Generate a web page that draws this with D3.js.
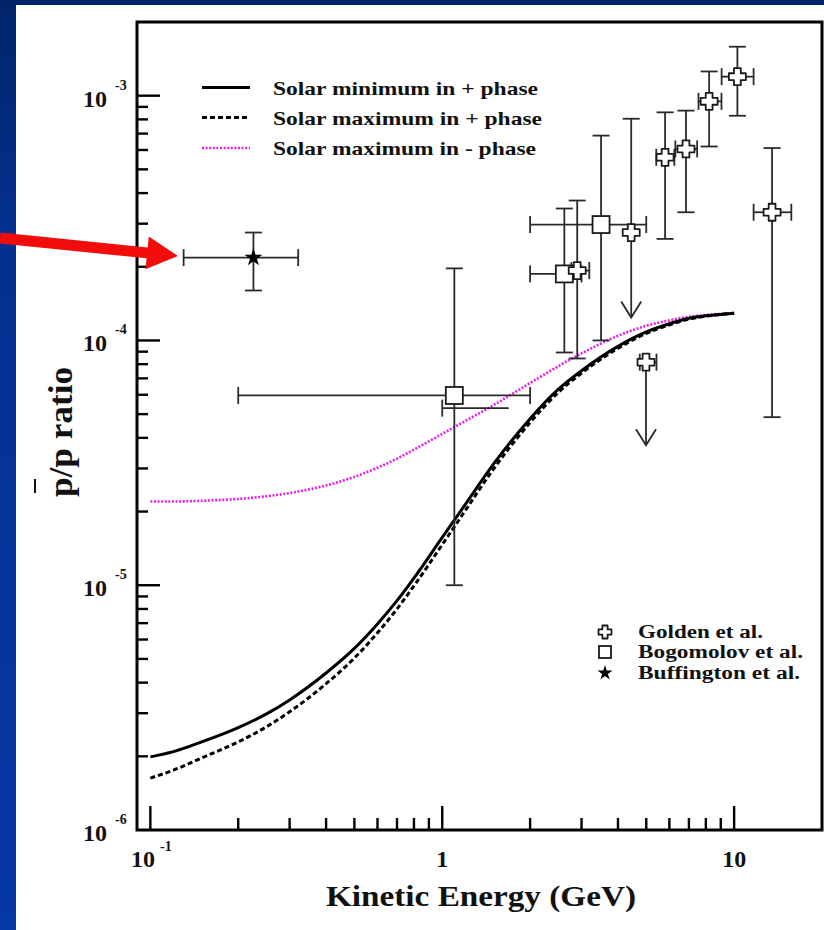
<!DOCTYPE html>
<html><head><meta charset="utf-8">
<script src="https://cdn.jsdelivr.net/npm/d3@7/dist/d3.min.js"></script>
<style>html,body{margin:0;padding:0;background:#fff;}svg{display:block;}</style>
</head><body><svg id="c" width="824" height="930"></svg>
<script>
// ---------------- data ----------------
const energyGrid   = [0.1,0.12,0.15,0.2,0.25,0.3,0.4,0.5,0.6,0.7,0.8,1.0,1.2,1.5,2,2.5,3,4,5,6,7,8,10];
const solarMinPlus = [1.99e-6,2.09e-6,2.29e-6,2.62e-6,2.98e-6,3.40e-6,4.38e-6,5.52e-6,6.95e-6,8.65e-6,1.069e-5,1.567e-5,2.14e-5,3.13e-5,4.79e-5,6.32e-5,7.52e-5,9.46e-5,1.083e-4,1.17e-4,1.232e-4,1.261e-4,1.293e-4];
const solarMaxPlus = [1.63e-6,1.756e-6,1.97e-6,2.29e-6,2.64e-6,3.04e-6,3.96e-6,5.04e-6,6.39e-6,8.0e-6,9.94e-6,1.465e-5,2.02e-5,2.99e-5,4.62e-5,6.14e-5,7.35e-5,9.29e-5,1.068e-4,1.158e-4,1.223e-4,1.256e-4,1.293e-4];
const solarMaxMinus= [2.198e-5,2.198e-5,2.213e-5,2.252e-5,2.308e-5,2.380e-5,2.557e-5,2.771e-5,3.020e-5,3.292e-5,3.581e-5,4.150e-5,4.688e-5,5.445e-5,6.699e-5,7.852e-5,8.851e-5,1.0447e-4,1.148e-4,1.208e-4,1.250e-4,1.271e-4,1.293e-4];
const curveLabels  = ["Solar minimum in + phase","Solar maximum in + phase","Solar maximum in - phase"];

// Golden et al. (crosses)
const goldenE    = [2.90, 4.44, 4.99, 5.80, 6.84, 8.21, 10.26, 13.49];
const goldenR    = [1.93e-4, 2.76e-4, 8.15e-5, 5.60e-4, 6.06e-4, 9.48e-4, 1.196e-3, 3.34e-4];
const goldenELo  = [2.77, 4.44, 4.75, 5.41, 6.29, 7.55, 9.06, 11.66];
const goldenEHi  = [3.19, 4.44, 5.42, 6.24, 7.47, 9.05, 11.66, 15.7];
const goldenRLo  = [8.44e-5, 1.24e-4, 3.73e-5, 2.60e-4, 3.34e-4, 6.20e-4, 8.28e-4, 4.86e-5];
const goldenRHi  = [3.73e-4, 8.05e-4, 8.15e-5, 8.55e-4, 8.69e-4, 1.256e-3, 1.585e-3, 6.11e-4];
const goldenUL   = [false, true, true, false, false, false, false, false];

// Bogomolov et al. (squares)
const bogE   = [1.10, 2.62, 3.50];
const bogR   = [5.96e-5, 1.87e-4, 2.975e-4];
const bogELo = [0.2, 2.0, 2.0];
const bogEHi = [2.0, 3.0, 5.0];
const bogRLo = [1.0e-5, 8.93e-5, 1.0e-4];
const bogRHi = [1.97e-4, 3.46e-4, 6.87e-4];

// Buffington et al. (star)
const bufE   = [0.2255];
const bufR   = [2.18e-4];
const bufELo = [0.130];
const bufEHi = [0.321];
const bufRLo = [1.60e-4];
const bufRHi = [2.76e-4];

// stray horizontal error segment near 1 GeV
const strayE = [1.0, 1.69];
const strayR = 5.29e-5;

const dataLabels = ["Golden et al.","Bogomolov et al.","Buffington et al."];
const yTickExp = [-3,-4,-5,-6];

// ---------------- drawing ----------------
const svg = d3.select("#c");
const FONT = "'Liberation Serif','Times New Roman',Times,serif";
const x = d3.scaleLog().domain([0.09,20]).range([137,822]);
const y = d3.scaleLog().domain([1e-6,2e-3]).range([830,22]);

// background
const defs = svg.append("defs");
const g1 = defs.append("linearGradient").attr("id","side").attr("x1",0).attr("y1",0).attr("x2",0).attr("y2",1);
g1.append("stop").attr("offset","0").attr("stop-color","#022569");
g1.append("stop").attr("offset","0.25").attr("stop-color","#04308f");
g1.append("stop").attr("offset","1").attr("stop-color","#0638a6");
svg.append("rect").attr("width",824).attr("height",930).attr("fill","#fff");
svg.append("rect").attr("x",0).attr("y",0).attr("width",824).attr("height",5).attr("fill","#02246a");
svg.append("rect").attr("x",0).attr("y",0).attr("width",16).attr("height",930).attr("fill","url(#side)");

// curves
const line = d3.line().x(d=>x(d[0])).y(d=>y(d[1])).curve(d3.curveMonotoneX);
const curves = [
  {v:solarMaxMinus, stroke:"#e81ee8", dash:"2,1.6", w:2.6},
  {v:solarMaxPlus,  stroke:"#000", dash:"5,3", w:3},
  {v:solarMinPlus,  stroke:"#000", dash:null, w:3}
];
curves.forEach(c=>{
  svg.append("path").datum(energyGrid.map((e,i)=>[e,c.v[i]]))
    .attr("d",line).attr("fill","none").attr("stroke",c.stroke)
    .attr("stroke-width",c.w).attr("stroke-dasharray",c.dash);
});

// error bars
const eb = svg.append("g").attr("stroke","#2a2a2a").attr("stroke-width",1.8).attr("fill","none");
const CAP = 8.5;
function errbar(E,R,ELo,EHi,RLo,RHi,ul){
  const cx=x(E), cy=y(R);
  if (RHi!==R){ eb.append("line").attr("x1",cx).attr("x2",cx).attr("y1",cy).attr("y2",y(RHi));
    eb.append("line").attr("x1",cx-CAP).attr("x2",cx+CAP).attr("y1",y(RHi)).attr("y2",y(RHi)); }
  if (RLo!==R){ eb.append("line").attr("x1",cx).attr("x2",cx).attr("y1",cy).attr("y2",y(RLo));
    if (ul){ const t=y(RLo); eb.append("path").attr("d",`M${cx-10},${t-16}L${cx},${t}L${cx+10},${t-16}`); }
    else eb.append("line").attr("x1",cx-CAP).attr("x2",cx+CAP).attr("y1",y(RLo)).attr("y2",y(RLo)); }
  if (ELo!==E){ eb.append("line").attr("x1",cx).attr("x2",x(ELo)).attr("y1",cy).attr("y2",cy);
    eb.append("line").attr("x1",x(ELo)).attr("x2",x(ELo)).attr("y1",cy-CAP).attr("y2",cy+CAP); }
  if (EHi!==E){ eb.append("line").attr("x1",cx).attr("x2",x(EHi)).attr("y1",cy).attr("y2",cy);
    eb.append("line").attr("x1",x(EHi)).attr("x2",x(EHi)).attr("y1",cy-CAP).attr("y2",cy+CAP); }
}
bogE.forEach((e,i)=>errbar(e,bogR[i],bogELo[i],bogEHi[i],bogRLo[i],bogRHi[i],false));
goldenE.forEach((e,i)=>errbar(e,goldenR[i],goldenELo[i],goldenEHi[i],goldenRLo[i],goldenRHi[i],goldenUL[i]));
bufE.forEach((e,i)=>errbar(e,bufR[i],bufELo[i],bufEHi[i],bufRLo[i],bufRHi[i],false));
// stray segment
eb.append("line").attr("x1",x(strayE[0])).attr("x2",x(strayE[1])).attr("y1",y(strayR)).attr("y2",y(strayR));
eb.append("line").attr("x1",x(strayE[0])).attr("x2",x(strayE[0])).attr("y1",y(strayR)-CAP).attr("y2",y(strayR)+CAP);

// symbols
function crossPath(h,a){
  return `M${-a},${-h}H${a}V${-a}H${h}V${a}H${a}V${h}H${-a}V${a}H${-h}V${-a}H${-a}Z`;
}
const sym = svg.append("g");
function drawSquare(g,cx,cy,s){ g.append("rect").attr("x",cx-s/2).attr("y",cy-s/2).attr("width",s).attr("height",s)
  .attr("fill","#fff").attr("stroke","#1a1a1a").attr("stroke-width",1.8); }
function drawCross(g,cx,cy,h,a){ g.append("path").attr("d",crossPath(h,a)).attr("transform",`translate(${cx},${cy})`)
  .attr("fill","#fff").attr("stroke","#1a1a1a").attr("stroke-width",1.8).attr("stroke-linejoin","round"); }
function drawStar(g,cx,cy,size){ g.append("path").attr("d",d3.symbol(d3.symbolStar,size)()).attr("transform",`translate(${cx},${cy})`).attr("fill","#000"); }
bogE.forEach((e,i)=>drawSquare(sym,x(e),y(bogR[i]),17));
goldenE.forEach((e,i)=>drawCross(sym,x(e),y(goldenR[i]),8.5,3.4));
bufE.forEach((e,i)=>drawStar(sym,x(e),y(bufR[i]),100));

// axes frame & ticks
const ax = svg.append("g").attr("stroke","#000").attr("stroke-width",2.4);
for (let ex=-6; ex<=-3; ex++){
  for (let k=1;k<=9;k++){
    const v=k*Math.pow(10,ex);
    if (v<=1e-6*1.0001 || v>=2e-3*0.999) continue;
    const len = k===1?23:11;
    ax.append("line").attr("x1",137).attr("x2",137+len).attr("y1",y(v)).attr("y2",y(v));
  }
}
for (let ex=-1; ex<=1; ex++){
  for (let k=1;k<=9;k++){
    const v=k*Math.pow(10,ex);
    if (v<=0.09 || v>=20*0.999) continue;
    const len = k===1?24:12;
    ax.append("line").attr("x1",x(v)).attr("x2",x(v)).attr("y1",830).attr("y2",830-len);
  }
}
svg.append("rect").attr("x",137).attr("y",22).attr("width",685).attr("height",808)
  .attr("fill","none").attr("stroke","#000").attr("stroke-width",3);

// tick labels
const tl = svg.append("g").attr("font-family",FONT).attr("font-weight","bold").attr("fill","#111");
yTickExp.forEach(ex=>{
  const yy=y(Math.pow(10,ex));
  tl.append("text").attr("x",107).attr("y",yy+11).attr("text-anchor","end").attr("font-size",24).text("10");
  tl.append("text").attr("x",115).attr("y",yy-6).attr("font-size",14).text("-"+Math.abs(ex));
});
tl.append("text").attr("x",143).attr("y",867).attr("text-anchor","middle").attr("font-size",24).text("10");
tl.append("text").attr("x",160).attr("y",851).attr("font-size",14).text("-1");
tl.append("text").attr("x",x(1)).attr("y",867).attr("text-anchor","middle").attr("font-size",24).text("1");
tl.append("text").attr("x",x(10)).attr("y",867).attr("text-anchor","middle").attr("font-size",24).text("10");

// axis titles
tl.append("text").attr("x",481).attr("y",906).attr("text-anchor","middle").attr("font-size",30)
  .attr("textLength",310).attr("lengthAdjust","spacingAndGlyphs").text("Kinetic Energy (GeV)");
const yt = tl.append("g").attr("transform","translate(72,432) rotate(-90)");
yt.append("text").attr("x",0).attr("y",0).attr("text-anchor","middle").attr("font-size",34)
  .attr("textLength",130).attr("lengthAdjust","spacingAndGlyphs").text("p/p ratio");
yt.append("line").attr("x1",-61).attr("x2",-47).attr("y1",-37).attr("y2",-37).attr("stroke","#111").attr("stroke-width",2);

// top legend
const lg = svg.append("g");
const lgY=[87.5,117.5,148], lgLen=[265,269,263];
curves.slice().reverse().forEach((c,i)=>{
  lg.append("line").attr("x1",202).attr("x2",250).attr("y1",lgY[i]).attr("y2",lgY[i])
    .attr("stroke",c.stroke).attr("stroke-width",c.w).attr("stroke-dasharray",c.dash);
  lg.append("text").attr("x",273).attr("y",lgY[i]+7).attr("font-family",FONT).attr("font-weight","bold")
    .attr("font-size",19.5).attr("fill","#111").attr("textLength",lgLen[i]).attr("lengthAdjust","spacingAndGlyphs").text(curveLabels[i]);
});

// bottom legend
const bl = svg.append("g");
const blY=[632,652,673], blLen=[125,165,162];
drawCross(bl,605,blY[0],6.5,2.6);
drawSquare(bl,605,blY[1],12);
drawStar(bl,605,blY[2],70);
dataLabels.forEach((t,i)=>{
  bl.append("text").attr("x",638).attr("y",blY[i]+6).attr("font-family",FONT).attr("font-weight","bold")
    .attr("font-size",18).attr("fill","#111").attr("textLength",blLen[i]).attr("lengthAdjust","spacingAndGlyphs").text(t);
});

// red arrow
(function(){
  const sx=0, sy=238, tx=178, ty=256;
  const L=Math.hypot(tx-sx,ty-sy), dx=(tx-sx)/L, dy=(ty-sy)/L, nx=-dy, ny=dx;
  const bx=tx-dx*31, by=ty-dy*31, hw=5.5, hh=16.5;
  const pts=[[sx-nx*hw,sy-ny*hw],[bx-nx*hw,by-ny*hw],[bx-nx*hh,by-ny*hh],[tx,ty],[bx+nx*hh,by+ny*hh],[bx+nx*hw,by+ny*hw],[sx+nx*hw,sy+ny*hw]];
  svg.append("polygon").attr("points",pts.map(p=>p.join(",")).join(" ")).attr("fill","#f20d0d");
})();
</script></body></html>
